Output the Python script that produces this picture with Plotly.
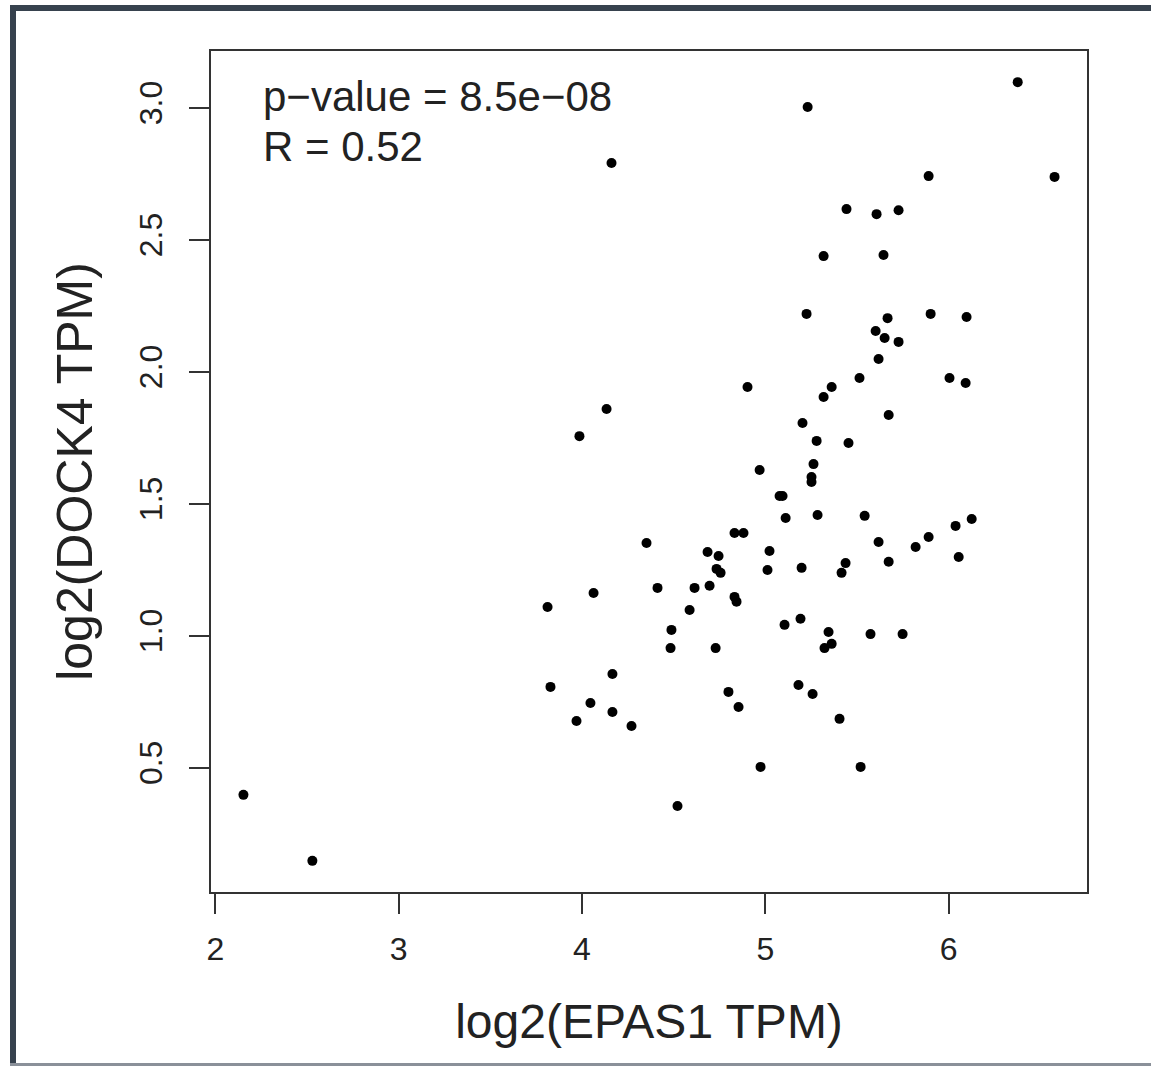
import plotly.graph_objects as go

# Data
epas1_log2 = [
    2.153, 2.529, 4.161, 5.231, 6.377, 6.578, 5.891, 5.443, 5.607, 5.727,
    5.318, 5.645, 5.225, 5.902, 5.667, 6.098, 5.602, 5.651, 5.727, 5.618,
    5.514, 6.005, 6.093, 4.903, 5.362, 5.318, 4.134, 5.203, 3.986, 5.280,
    5.454, 5.673, 4.969, 5.263, 5.252, 5.252, 5.078, 5.094, 5.111, 5.285,
    5.542, 4.832, 4.881, 4.352, 4.685, 4.745, 5.023, 4.734, 4.756, 5.012,
    5.198, 5.438, 5.416, 5.673, 5.618, 5.820, 5.891, 6.038, 6.126, 6.055,
    4.063, 3.812, 4.412, 4.614, 4.696, 4.832, 4.843, 4.587, 5.105, 5.192,
    4.488, 4.483, 4.729, 5.345, 5.362, 5.323, 5.574, 5.749, 4.166, 3.828,
    4.046, 4.166, 3.970, 4.270, 4.799, 4.854, 5.181, 5.258, 5.405, 4.974,
    5.520, 4.521,
]
dock4_log2 = [
    0.397, 0.147, 2.791, 3.003, 3.097, 2.738, 2.741, 2.616, 2.597, 2.612,
    2.438, 2.442, 2.219, 2.219, 2.203, 2.207, 2.154, 2.128, 2.113, 2.048,
    1.976, 1.976, 1.957, 1.942, 1.942, 1.904, 1.859, 1.806, 1.756, 1.738,
    1.730, 1.836, 1.628, 1.650, 1.601, 1.582, 1.529, 1.529, 1.446, 1.457,
    1.454, 1.389, 1.389, 1.351, 1.317, 1.302, 1.321, 1.253, 1.238, 1.249,
    1.257, 1.275, 1.238, 1.280, 1.355, 1.336, 1.374, 1.416, 1.442, 1.298,
    1.162, 1.109, 1.181, 1.181, 1.189, 1.147, 1.129, 1.097, 1.041, 1.064,
    1.022, 0.953, 0.953, 1.014, 0.969, 0.953, 1.006, 1.006, 0.855, 0.806,
    0.745, 0.711, 0.677, 0.658, 0.787, 0.730, 0.813, 0.779, 0.685, 0.503,
    0.503, 0.355,
]
x_ticks = [2, 3, 4, 5, 6]
x_tick_labels = ["2", "3", "4", "5", "6"]
y_ticks = [0.5, 1.0, 1.5, 2.0, 2.5, 3.0]
y_tick_labels = ["0.5", "1.0", "1.5", "2.0", "2.5", "3.0"]
x_label = "log2(EPAS1 TPM)"
y_label = "log2(DOCK4 TPM)"
stat_lines = ["p\u2212value = 8.5e\u221208", "R = 0.52"]

FONT = "Liberation Sans, Arial, Helvetica, sans-serif"
W, H = 1151, 1066
ML, MR, MT, MB = 211, 64, 51, 174
PW, PH = W - ML - MR, H - MT - MB


def r_range(vals):
    lo, hi = min(vals), max(vals)
    pad = 0.04 * (hi - lo)
    return [lo - pad, hi + pad]


def px_x(p):
    return (p - ML) / PW


def px_y(p):
    return 1 - (p - MT) / PH


fig = go.Figure(
    go.Scatter(
        x=epas1_log2,
        y=dock4_log2,
        mode="markers",
        marker=dict(color="black", size=10, line=dict(width=0)),
        hoverinfo="x+y",
    )
)

axis_common = dict(
    showgrid=False,
    zeroline=False,
    showline=True,
    mirror=True,
    linecolor="#333333",
    linewidth=2,
    ticks="outside",
    ticklen=20,
    tickwidth=2,
    tickcolor="#333333",
    tickfont=dict(family=FONT, size=32, color="#222222"),
)

fig.update_layout(
    template="none",
    width=W,
    height=H,
    margin=dict(l=ML, r=MR, t=MT, b=MB, pad=0),
    paper_bgcolor="white",
    plot_bgcolor="white",
    showlegend=False,
    xaxis=dict(
        **axis_common,
        range=r_range(epas1_log2),
        tickvals=x_ticks,
        ticktext=x_tick_labels,
        ticklabelstandoff=8,
        title=dict(text=x_label, font=dict(family=FONT, size=48, color="#222222"), standoff=38),
    ),
    yaxis=dict(
        **axis_common,
        range=r_range(dock4_log2),
        tickvals=y_ticks,
        ticktext=y_tick_labels,
        tickangle=-90,
        ticklabelstandoff=14,
        title=dict(text=y_label, font=dict(family=FONT, size=50, color="#222222"), standoff=25),
    ),
)

# statistics text (top-left legend in the original)
for text, cy in zip(stat_lines, [96, 146]):
    fig.add_annotation(
        text=text,
        xref="paper", yref="paper",
        x=px_x(261), y=px_y(cy),
        xanchor="left", yanchor="middle",
        showarrow=False,
        font=dict(family=FONT, size=42, color="#222222"),
    )

# screenshot frame decorations
fig.add_shape(type="rect", xref="paper", yref="paper",
              x0=px_x(10), x1=px_x(W), y0=px_y(5), y1=px_y(11),
              fillcolor="#37424e", line=dict(width=0))
fig.add_shape(type="rect", xref="paper", yref="paper",
              x0=px_x(10), x1=px_x(16), y0=px_y(5), y1=px_y(H),
              fillcolor="#37424e", line=dict(width=0))
fig.add_shape(type="rect", xref="paper", yref="paper",
              x0=px_x(10), x1=px_x(W), y0=px_y(1063), y1=px_y(1066),
              fillcolor="#8a9099", line=dict(width=0))

fig.write_html("out.html")
